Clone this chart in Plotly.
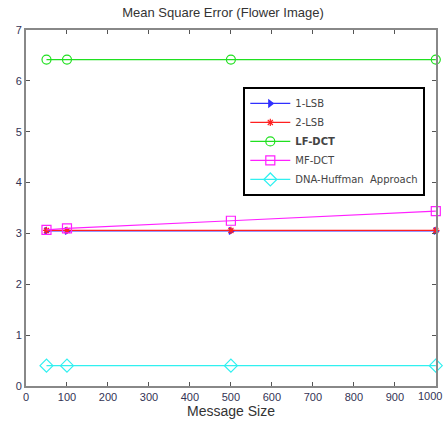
import plotly.graph_objects as go

# Message sizes and mean square error per method
message_size = [50, 100, 500, 1000]
mse_1lsb = [3.05, 3.05, 3.05, 3.05]
mse_2lsb = [3.06, 3.06, 3.06, 3.06]
mse_lfdct = [6.42, 6.42, 6.42, 6.42]
mse_mfdct = [3.07, 3.10, 3.25, 3.44]
mse_dna = [0.40, 0.40, 0.40, 0.40]

x_ticks = [0, 100, 200, 300, 400, 500, 600, 700, 800, 900, 1000]
# the last label sits at the right border and is placed separately below
x_tick_labels = ["0", "100", "200", "300", "400", "500", "600", "700",
                 "800", "900", ""]
last_x_label = "1000"
y_ticks = [0, 1, 2, 3, 4, 5, 6, 7]

series = [
    ("1-LSB", mse_1lsb, "#3030ff", "triangle-right", 6),
    ("2-LSB", mse_2lsb, "#ff2020", "asterisk-open", 6),
    ("<b>LF-DCT</b>", mse_lfdct, "#20e020", "circle-open", 9),
    ("MF-DCT", mse_mfdct, "#ff20ff", "square-open", 9),
    ("DNA-Huffman  Approach", mse_dna, "#30f0f0", "diamond-open", 10),
]

fig = go.Figure()
for name, vals, color, symbol, size in series:
    fig.add_trace(go.Scatter(
        x=message_size, y=vals, name=name, mode="lines+markers",
        line=dict(color=color, width=1.2),
        marker=dict(symbol=symbol, size=size, color=color,
                    line=dict(color=color, width=1.2)),
        cliponaxis=False,
    ))

tick_font = dict(size=11, color="#333355")
axis_common = dict(
    showgrid=False, zeroline=False, showline=True, mirror="ticks",
    linecolor="#888888", linewidth=2, ticks="inside", ticklen=4,
    tickcolor="#555555", tickfont=tick_font, automargin=False,
)

fig.add_annotation(
    x=x_ticks[-1], xref="x", y=0, yref="paper",
    xanchor="right", yanchor="top", xshift=8, yshift=-2,
    text=last_x_label, showarrow=False, font=tick_font,
)

fig.update_layout(
    width=446, height=428,
    margin=dict(l=26, r=10, t=30, b=42),
    paper_bgcolor="white", plot_bgcolor="white",
    font=dict(family="Liberation Sans, Arial, sans-serif", color="#333333"),
    title=dict(text="Mean Square Error (Flower Image)", x=0.5, xanchor="center",
               y=0.982, yanchor="top", font=dict(size=13, color="#333333")),
    xaxis=dict(range=[0, 1000.5], tickvals=x_ticks, ticktext=x_tick_labels,
               title=dict(text="Message Size", font=dict(size=14), standoff=1),
               **axis_common),
    yaxis=dict(range=[0, 7.002], tickvals=y_ticks, **axis_common),
    legend=dict(x=0.53, y=0.84, xanchor="left", yanchor="top",
                bgcolor="white", bordercolor="black", borderwidth=2,
                font=dict(family="DejaVu Sans, sans-serif", size=10,
                          color="#444444"),
                tracegroupgap=0, itemwidth=40),
    showlegend=True,
)

fig.write_html("out.html")
